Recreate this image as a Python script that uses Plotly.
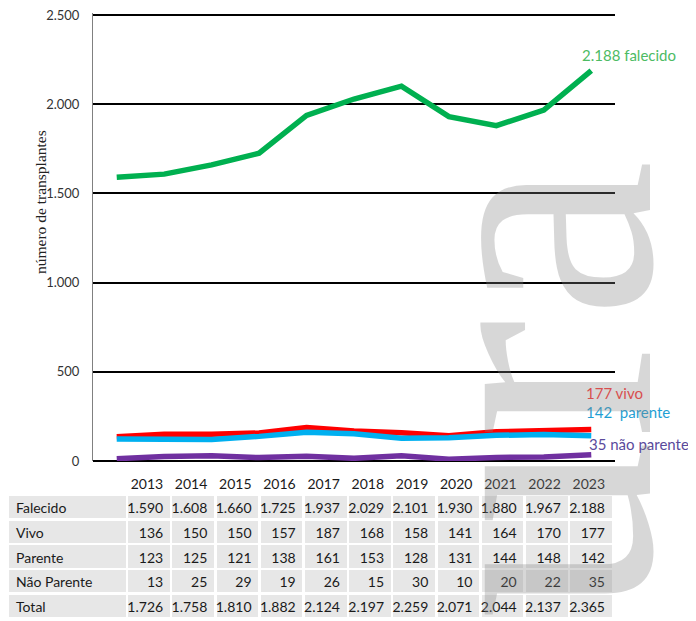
import plotly.graph_objects as go

# dados (transplantes por tipo de dador)
years = ['2013', '2014', '2015', '2016', '2017', '2018', '2019', '2020', '2021', '2022', '2023']
falecido = [1590, 1608, 1660, 1725, 1937, 2029, 2101, 1930, 1880, 1967, 2188]
vivo = [136, 150, 150, 157, 187, 168, 158, 141, 164, 170, 177]
parente = [123, 125, 121, 138, 161, 153, 128, 131, 144, 148, 142]
nao_parente = [13, 25, 29, 19, 26, 15, 30, 10, 20, 22, 35]
total = [1726, 1758, 1810, 1882, 2124, 2197, 2259, 2071, 2044, 2137, 2365]
row_labels = ['Falecido', 'Vivo', 'Parente', 'Não Parente', 'Total']
y_ticks = [0, 500, 1000, 1500, 2000, 2500]

# a página tem 8px de margem no body -> figura um pouco menor
W, H = 688, 613


def fmt(v):
    return f"{v:,}".replace(",", ".")


def px(x):
    return x / W


def py(y):
    return 1 - y / H


fig = go.Figure()

# linhas
series = [
    (vivo, '#ff0000'),
    (parente, '#00b0f0'),
    (nao_parente, '#7030a0'),
    (falecido, '#00b050'),
]
for vals, color in series:
    fig.add_trace(go.Scatter(
        x=years, y=vals, mode='lines',
        line=dict(color=color, width=5.5),
        showlegend=False, hoverinfo='skip'
    ))

# tabela por baixo do gráfico (primeira linha = anos, sem fundo)
# o header fica transparente, por cima da zona do gráfico
all_rows = [falecido, vivo, parente, nao_parente, total]
cols = [[''] + row_labels] + [[years[i]] + [fmt(r[i]) for r in all_rows] for i in range(len(years))]
row_fill = ['white'] + ['#e7e7e7'] * len(all_rows)
hdr_h = 25
fig.add_trace(go.Table(
    domain=dict(x=[0, px(605)], y=[0, py(462 - hdr_h)]),
    columnwidth=[119] + [44.2] * len(years),
    header=dict(
        values=[''],
        height=hdr_h,
        fill_color='rgba(0,0,0,0)',
        line=dict(color='rgba(0,0,0,0)', width=0),
    ),
    cells=dict(
        values=cols,
        align=['left'] + ['right'] * len(years),
        fill_color=[row_fill] * len(cols),
        line=dict(color='white', width=2.5),
        font=dict(family='Lato', size=14, color='#1a1a1a'),
        height=24.7,
    ),
))

# rótulos no fim das linhas
labels = [
    ('2.188 falecido', 9.77, 2276, '#4dbb63'),
    ('177 vivo', 9.85, 381, '#ff3535'),
    ('142  parente', 9.85, 275, '#1f9fd4'),
    ('35 não parente', 9.9, 95, '#5a4a9c'),
]
for txt, x, y, color in labels:
    fig.add_annotation(
        x=x, y=y, xref='x', yref='y', text=txt, showarrow=False,
        xanchor='left', yanchor='middle',
        font=dict(family='Lato', size=15, color=color)
    )

# título do eixo y
fig.add_annotation(
    x=px(32), y=py(194), xref='paper', yref='paper',
    text='número de transplantes', showarrow=False, textangle=-90,
    xanchor='center', yanchor='middle',
    font=dict(family='Liberation Serif', size=15.5, color='#222222')
)

# marca de água
fig.add_annotation(
    x=px(722), y=py(150), xref='paper', yref='paper',
    text='Leitura', showarrow=False, textangle=-90,
    xanchor='right', yanchor='top',
    font=dict(family='Liberation Serif', size=360, color='rgba(130,130,130,0.32)')
)

# eixo y: 2510 com o domínio um pouco mais alto para a linha dos 2.500 aparecer
y_top = 2510
y_scale = 446 / 2500

fig.update_layout(
    width=W, height=H,
    margin=dict(l=0, r=0, t=0, b=0),
    paper_bgcolor='white',
    plot_bgcolor='white',
    separators=',.',
    hovermode=False,
    xaxis=dict(
        domain=[px(85), px(607)],
        type='category',
        range=[-0.5, 10.5],
        showticklabels=False,
        showgrid=False,
        showline=False,
        zeroline=False,
    ),
    yaxis=dict(
        domain=[py(453), py(453 - y_top * y_scale)],
        range=[0, y_top],
        tickvals=y_ticks,
        tickformat=',d',
        showgrid=True,
        gridcolor='#000000',
        gridwidth=2,
        zeroline=True,
        zerolinecolor='#000000',
        zerolinewidth=2,
        showline=True,
        linecolor='#808080',
        linewidth=1,
        ticks='',
        ticklabelstandoff=10,
        ticklabeloverflow='allow',
        automargin=False,
        tickfont=dict(family='Lato', size=13, color='#333333'),
    ),
)

fig.write_html("out.html")
